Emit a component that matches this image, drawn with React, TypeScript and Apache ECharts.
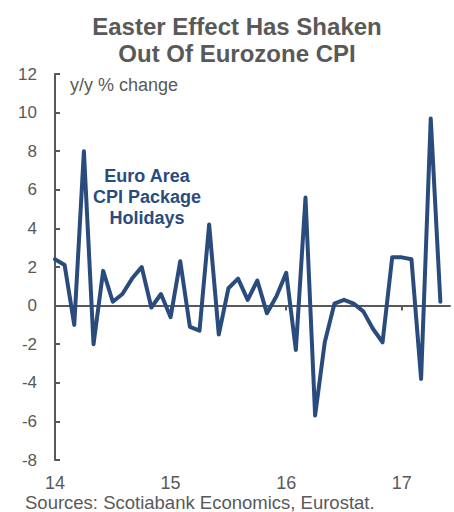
import React, { useEffect, useRef } from "react";
import * as echarts from "echarts";

const months: string[] = [
  "2014-01","2014-02","2014-03","2014-04","2014-05","2014-06","2014-07","2014-08","2014-09","2014-10","2014-11","2014-12",
  "2015-01","2015-02","2015-03","2015-04","2015-05","2015-06","2015-07","2015-08","2015-09","2015-10","2015-11","2015-12",
  "2016-01","2016-02","2016-03","2016-04","2016-05","2016-06","2016-07","2016-08","2016-09","2016-10","2016-11","2016-12",
  "2017-01","2017-02","2017-03","2017-04","2017-05","2017-06",
];

const packageHolidays: (number | null)[] = [
  2.4, 2.1, -1.0, 8.0, -2.0, 1.8, 0.2, 0.6, 1.4, 2.0, -0.1, 0.6,
  -0.6, 2.3, -1.1, -1.3, 4.2, -1.5, 0.9, 1.4, 0.3, 1.3, -0.4, 0.5,
  1.7, -2.3, 5.6, -5.7, -1.9, 0.1, 0.3, 0.1, -0.3, -1.2, -1.9, 2.5,
  2.5, 2.4, -3.8, 9.7, 0.2, null,
];

const yTicks = { min: -8, max: 12, interval: 2 };

const titleText = "Easter Effect Has Shaken\nOut Of Eurozone CPI";
const unitText = "y/y % change";
const seriesLabel = "Euro Area\nCPI Package\nHolidays";
const sourceText = "Sources: Scotiabank Economics, Eurostat.";

const FONT = "'Liberation Sans', Arial, sans-serif";
const GRAY = "#595959";
const BLUE = "#2a4c7d";

const yearLabel = (v: string) => v.slice(2, 4);
const isYearStart = (i: number) => i % 12 === 0;

export default function App() {
  const ref = useRef<HTMLDivElement>(null);
  useEffect(() => {
    if (!ref.current) return;
    const chart = echarts.init(ref.current, undefined, { renderer: "svg" });
    chart.setOption({
      animation: false,
      backgroundColor: "#ffffff",
      title: {
        text: titleText,
        left: 232,
        top: 8,
        textAlign: "center",
        textStyle: { fontFamily: FONT, fontSize: 24, fontWeight: "bold", color: GRAY, lineHeight: 27 },
      },
      grid: { left: 55, right: 4, top: 74, bottom: 52, containLabel: false },
      xAxis: [
        {
          type: "category",
          data: months,
          boundaryGap: false,
          position: "bottom",
          axisLine: { show: false, onZero: false },
          axisTick: { show: false },
          splitLine: { show: false },
          axisLabel: {
            interval: (i: number) => isYearStart(i),
            formatter: (v: string) => yearLabel(v),
            color: GRAY,
            fontFamily: FONT,
            fontSize: 18,
            margin: 14,
          },
        },
        {
          type: "category",
          data: months,
          boundaryGap: false,
          position: "bottom",
          axisLine: { show: true, onZero: true, lineStyle: { color: GRAY, width: 2 } },
          axisTick: {
            show: true,
            interval: (i: number) => isYearStart(i) && i > 0,
            length: 5,
            lineStyle: { color: GRAY, width: 2 },
          },
          axisLabel: { show: false },
          splitLine: { show: false },
        },
      ],
      yAxis: {
        type: "value",
        min: yTicks.min,
        max: yTicks.max,
        interval: yTicks.interval,
        axisLine: { show: true, lineStyle: { color: GRAY, width: 2 } },
        axisTick: { show: true, inside: true, length: 5, lineStyle: { color: GRAY, width: 2 } },
        splitLine: { show: false },
        axisLabel: { color: GRAY, fontFamily: FONT, fontSize: 17, margin: 18 },
      },
      series: [
        {
          type: "line",
          name: "Euro Area CPI Package Holidays",
          xAxisIndex: 0,
          data: packageHolidays,
          showSymbol: false,
          symbol: "none",
          lineStyle: { color: BLUE, width: 4, join: "round", cap: "round" },
          z: 3,
        },
      ],
      graphic: [
        {
          type: "text",
          left: 70,
          top: 76,
          style: { text: unitText, fill: GRAY, font: `18px ${FONT}` },
        },
        {
          type: "text",
          x: 147,
          y: 165,
          style: {
            text: seriesLabel,
            fill: BLUE,
            font: `bold 18px ${FONT}`,
            align: "center",
            lineHeight: 21,
          },
        },
        {
          type: "text",
          left: 25,
          top: 493,
          style: { text: sourceText, fill: GRAY, font: `18.5px ${FONT}` },
        },
      ],
    });
    return () => chart.dispose();
  }, []);
  return (
    <div
      ref={ref}
      style={{ position: "absolute", left: 0, top: 0, width: 454, height: 512 }}
    />
  );
}
